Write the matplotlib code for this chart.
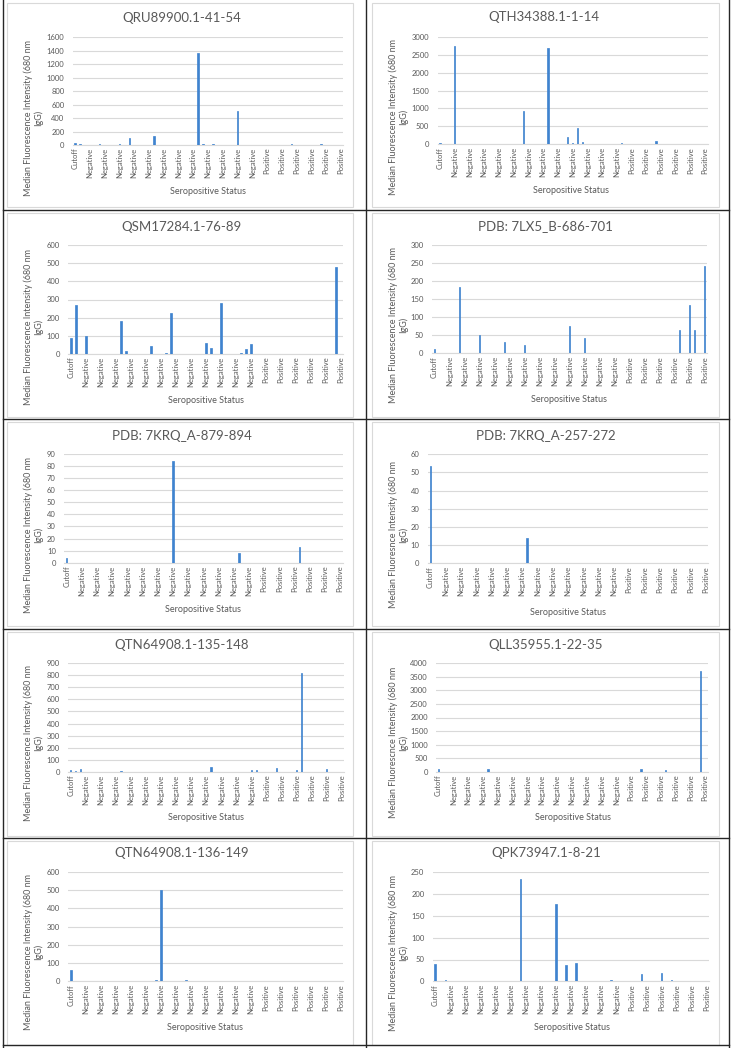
import matplotlib
matplotlib.use('Agg')
import matplotlib.pyplot as plt
from matplotlib.patches import Rectangle
from matplotlib.lines import Line2D
import numpy as np

plt.rcParams['font.family'] = ['Lato', 'DejaVu Sans']

W, H = 731, 1048

# 55 samples per chart, Excel shows every 3rd label
categories = ['Cutoff'] + ['Negative'] * 38 + ['Positive'] * 16

titles = ['QRU89900.1-41-54', 'QTH34388.1-1-14', 'QSM17284.1-76-89',
          'PDB: 7LX5_B-686-701', 'PDB: 7KRQ_A-879-894', 'PDB: 7KRQ_A-257-272',
          'QTN64908.1-135-148', 'QLL35955.1-22-35', 'QTN64908.1-136-149',
          'QPK73947.1-8-21']

ylab = 'Median Fluorescence Intensity (680 nm\nIgG)'
ylabels = [ylab, ylab, ylab, ylab, ylab,
           'Median Fluoresnce Intensity (680 nm\nIgG)',
           ylab,
           'Median Fluorescnce Intensity (680 nm\nIgG)',
           ylab, ylab]

qru89900 = [35, 15, 0, 0, 0, 15, 0, 0, 0, 20, 0,
            105, 0, 0, 0, 0, 140, 0, 0, 0, 0, 0,
            0, 0, 0, 1360, 15, 0, 15, 0, 0, 0, 0,
            510, 0, 0, 0, 0, 0, 0, 0, 0, 0, 0,
            15, 0, 0, 0, 0, 0, 15, 0, 0, 0, 0]
qth34388 = [25, 0, 0, 2730, 0, 0, 0, 0, 0, 0, 0,
            10, 0, 0, 0, 0, 0, 940, 0, 10, 0, 0,
            2680, 0, 0, 0, 190, 25, 450, 70, 20, 0, 0,
            0, 0, 0, 0, 50, 0, 0, 0, 0, 0, 0,
            100, 0, 0, 0, 0, 0, 0, 0, 0, 0, 0]
qsm17284 = [88, 272, 0, 100, 0, 0, 0, 0, 0, 0, 180,
            15, 0, 0, 0, 0, 42, 0, 0, 4, 226, 0,
            0, 0, 0, 0, 0, 62, 33, 0, 283, 0, 0,
            0, 3, 27, 53, 0, 0, 0, 0, 0, 0, 0,
            0, 0, 0, 0, 0, 0, 0, 0, 0, 478, 0]
lx5_686 = [13, 0, 0, 0, 0, 185, 0, 0, 0, 52, 0,
           0, 0, 0, 32, 0, 0, 0, 22, 0, 0, 0,
           0, 0, 0, 0, 0, 77, 0, 0, 42, 0, 0,
           0, 0, 0, 0, 0, 0, 0, 0, 0, 0, 0,
           0, 0, 0, 0, 0, 64, 0, 135, 64, 0, 241]
krq_879 = [4, 0, 0, 0, 0, 0, 0, 0, 0, 0, 0,
           0, 0, 0, 0, 0, 0, 0, 0, 0, 0, 84,
           0, 0, 0, 0, 0, 0, 0, 0, 0, 0, 0,
           0, 8, 0, 0, 0, 0, 0, 0, 0, 0, 0,
           0, 0, 13, 0, 0, 0, 0, 0, 0, 0, 0]
krq_257 = [53.5, 0, 0, 0, 0, 0, 0, 0, 0, 0, 0,
           0, 0, 0, 0, 0, 0, 0, 0, 14, 0, 0,
           0, 0, 0, 0, 0, 0, 0, 0, 0, 0, 0,
           0, 0, 0, 0, 0, 0, 0, 0, 0, 0, 0,
           0, 0, 0, 0, 0, 0, 0, 0, 0, 0, 0]
qtn_135 = [15, 5, 20, 0, 0, 0, 0, 0, 0, 0, 8,
           0, 0, 0, 0, 0, 0, 0, 0, 0, 0, 0,
           0, 0, 0, 0, 0, 0, 35, 0, 0, 0, 0,
           0, 0, 0, 14, 10, 0, 0, 0, 28, 0, 0,
           0, 10, 820, 0, 0, 0, 0, 22, 0, 0, 0]
qll35955 = [100, 0, 0, 0, 0, 0, 0, 0, 0, 0, 100,
            0, 0, 0, 0, 0, 0, 0, 0, 0, 0, 0,
            0, 0, 0, 0, 0, 0, 0, 0, 0, 0, 0,
            0, 0, 0, 0, 0, 0, 0, 0, 100, 0, 0,
            0, 0, 50, 0, 0, 0, 0, 0, 0, 3700, 0]
qtn_136 = [64, 0, 0, 0, 0, 0, 0, 0, 0, 0, 0,
           0, 0, 0, 0, 0, 0, 6, 500, 0, 0, 0,
           0, 6, 0, 0, 0, 0, 0, 0, 0, 0, 0,
           0, 0, 0, 0, 0, 0, 0, 0, 0, 0, 0,
           0, 0, 0, 0, 0, 0, 0, 0, 0, 0, 0]
qpk73947 = [40, 0, 3, 0, 0, 0, 0, 0, 0, 0, 0,
            0, 0, 0, 0, 0, 0, 235, 0, 0, 0, 0,
            0, 0, 178, 0, 37, 0, 42, 0, 0, 0, 0,
            0, 0, 2, 0, 0, 0, 0, 0, 17, 0, 0,
            0, 19, 0, 4, 0, 0, 0, 0, 0, 0, 0]

series = [qru89900, qth34388, qsm17284, lx5_686, krq_879,
          krq_257, qtn_135, qll35955, qtn_136, qpk73947]
ymax = [1600, 3000, 600, 300, 90, 60, 900, 4000, 600, 250]
ystep = [200, 500, 100, 50, 10, 10, 100, 500, 100, 50]

# plot areas in pixels: left, right, top, bottom
plot_px = [(72.7, 343.3, 37.3, 145), (437.5, 707.6, 36.7, 144.3),
           (68.3, 343.3, 245, 354), (431.8, 706.8, 245, 353.3),
           (64.1, 342.7, 454, 562.7), (427.8, 708.3, 454.3, 563.3),
           (68.2, 344.2, 663.3, 771.7), (436, 707.7, 663.3, 771.7),
           (68.3, 343.3, 872, 981.3), (432.7, 709.3, 872.3, 981.3)]
title_px = [(182, 18), (544, 17.3), (181.7, 226.7), (545, 226), (181.7, 436),
            (546, 436), (181.7, 645), (546, 645), (181.7, 853), (546, 853)]
xlab_px = [(207.7, 191.7), (571, 190.7), (205.7, 400.7), (569, 399.3),
           (203.3, 609.3), (567.7, 612.7), (205.7, 817.7), (572.7, 817.3),
           (205, 1028), (571.7, 1028)]
ylab_py = [117.5, 116.7, 326.7, 325, 535, 535, 743, 742.5, 952, 953]

grey = '#595959'
bar_col = '#3f83cf'

fig = plt.figure(figsize=(W / 100, H / 100), dpi=100)

def fx(x):
    return x / W

def fy(y):
    return 1 - y / H

# chart area borders (light) and table cell lines (dark)
row_top = [0, 209.5, 419, 629, 838]
for r in range(5):
    for c in range(2):
        x0 = 7 if c == 0 else 372.5
        x1 = 353 if c == 0 else 719
        y0 = row_top[r] + 3
        y1 = row_top[r] + 207
        fig.add_artist(Rectangle((fx(x0), fy(y1)), fx(x1) - fx(x0), fy(y0) - fy(y1),
                                 transform=fig.transFigure, fill=False,
                                 edgecolor='#d9d9d9', lw=0.8))
for xv in [2.5, 365.5, 728.5]:
    fig.add_artist(Line2D([fx(xv), fx(xv)], [0, 1], color='#262626', lw=1.0,
                          transform=fig.transFigure))
for yv in [209.5, 419, 629, 838, 1045]:
    fig.add_artist(Line2D([fx(2.5), fx(728.5)], [fy(yv), fy(yv)], color='#262626',
                          lw=1.0, transform=fig.transFigure))

n = len(categories)
xs = np.arange(n)
for i in range(10):
    l, r, t, b = plot_px[i]
    ax = fig.add_axes([fx(l), fy(b), fx(r) - fx(l), fy(t) - fy(b)])
    ax.bar(xs, series[i], width=0.3, color=bar_col, edgecolor=bar_col,
           linewidth=0.5, zorder=3)
    ax.set_xlim(-0.5, n - 0.5)
    ax.set_ylim(0, ymax[i])
    ax.set_yticks(np.arange(0, ymax[i] + 1, ystep[i]))
    ax.set_xticks(xs[::3])
    ax.set_xticklabels(categories[::3], rotation=90, fontsize=5.5, color=grey)
    ax.tick_params(axis='y', labelsize=5.5, labelcolor=grey, length=0, pad=6)
    ax.tick_params(axis='x', length=0, pad=2)
    ax.grid(axis='y', color='#d9d9d9', lw=0.8, zorder=0)
    for s in ['top', 'right', 'left']:
        ax.spines[s].set_visible(False)
    ax.spines['bottom'].set_color('#d9d9d9')
    ax.spines['bottom'].set_linewidth(0.8)

    tx, ty = title_px[i]
    fig.text(fx(tx), fy(ty), titles[i], ha='center', va='center',
             fontsize=9.5, color=grey)
    lx, ly = xlab_px[i]
    fig.text(fx(lx), fy(ly), 'Seropositive Status', ha='center', va='center',
             fontsize=6.5, color=grey)
    yx = 33 if i % 2 == 0 else 398.5
    fig.text(fx(yx), fy(ylab_py[i]), ylabels[i], rotation=90, ha='center',
             va='center', multialignment='center', fontsize=6.5, color=grey,
             linespacing=1.1)

fig.savefig('out.png', dpi=100)
